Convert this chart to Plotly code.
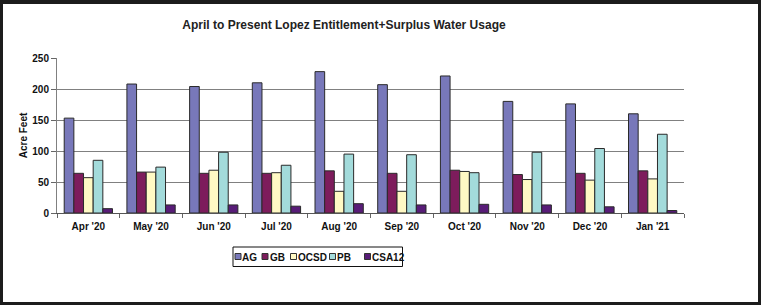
import plotly.graph_objects as go

months = ["Apr '20", "May '20", "Jun '20", "Jul '20", "Aug '20",
          "Sep '20", "Oct '20", "Nov '20", "Dec '20", "Jan '21"]
AG = [153, 208, 204, 210, 228, 207, 221, 180, 176, 160]
GB = [64, 66, 64, 64, 68, 64, 69, 62, 64, 68]
OCSD = [57, 66, 69, 65, 35, 35, 67, 54, 53, 55]
PB = [85, 74, 98, 77, 95, 94, 65, 98, 104, 127]
CSA12 = [7, 13, 13, 11, 15, 13, 14, 13, 10, 4]

series_names = ["AG", "GB", "OCSD", "PB", "CSA12"]
series_values = [AG, GB, OCSD, PB, CSA12]
colors = ["#7878BA", "#7D1C5C", "#FFF9C4", "#A3DBDB", "#581C78"]

W, H = 761, 305
ML, MR, MT, MB = 57, 77, 58, 92
PW, PH = W - ML - MR, H - MT - MB

def px(x):
    return (x - ML) / PW

def py(y):
    return (H - MB - y) / PH

FONT = "Arial, Liberation Sans, sans-serif"

fig = go.Figure()
for name, vals, col in zip(series_names, series_values, colors):
    fig.add_trace(go.Bar(
        x=months, y=vals, name=name,
        marker=dict(color=col, line=dict(color="#2a2a2a", width=1)),
        showlegend=False,
    ))

shapes = []
# black frame around the picture
frame_col = "#1c1c1c"
for (x0, y0, x1, y1) in [(0, 0, W, 4), (0, 0, 3, H), (W - 3, 0, W, H), (0, H - 3, W, H)]:
    shapes.append(dict(type="rect", xref="paper", yref="paper",
                       x0=px(x0), x1=px(x1), y0=py(y0), y1=py(y1),
                       fillcolor=frame_col, line=dict(width=0), layer="above"))

# manual legend
shapes.append(dict(type="rect", xref="paper", yref="paper",
                   x0=px(233), x1=px(402.5), y0=py(247), y1=py(266.5),
                   fillcolor="white", line=dict(color="#111", width=1)))
sq_x = [235, 262, 290.5, 329.5, 364.5]
txt_x = [242, 269.5, 297.5, 336.5, 371.5]
annotations = []
cy = 256.5
for name, col, sx, tx in zip(series_names, colors, sq_x, txt_x):
    shapes.append(dict(type="rect", xref="paper", yref="paper",
                       x0=px(sx), x1=px(sx + 6), y0=py(cy - 3), y1=py(cy + 3),
                       fillcolor=col, line=dict(color="#333", width=1)))
    annotations.append(dict(text=name, xref="paper", yref="paper",
                            x=px(tx), y=py(cy + 0.5), xanchor="left", yanchor="middle",
                            showarrow=False, borderpad=0, borderwidth=0,
                            font=dict(family=FONT, size=10, color="#111", weight="bold")))

fig.update_layout(
    width=W, height=H,
    margin=dict(l=ML, r=MR, t=MT, b=MB),
    paper_bgcolor="white", plot_bgcolor="white",
    barmode="group", bargap=0.23, bargroupgap=0,
    title=dict(text="April to Present Lopez Entitlement+Surplus Water Usage",
               x=344 / W, xref="container", xanchor="center",
               y=1 - 25 / H, yref="container", yanchor="middle",
               font=dict(family=FONT, size=12, color="#222", weight="bold")),
    xaxis=dict(type="category", showgrid=False, ticks="outside", tickson="boundaries",
               ticklen=4, tickcolor="#666", showline=True, linecolor="#555", linewidth=1,
               tickfont=dict(family=FONT, size=10, color="#111", weight="bold"),
               ticklabelstandoff=4),
    yaxis=dict(range=[0, 250], dtick=50, showgrid=True, gridcolor="#808080", gridwidth=1,
               ticks="outside", ticklen=5, tickcolor="#666", showline=True,
               linecolor="#808080", zeroline=False,
               tickfont=dict(family=FONT, size=10, color="#111", weight="bold"),
               title=dict(text="Acre Feet", standoff=2,
                          font=dict(family=FONT, size=10, color="#111", weight="bold"))),
    shapes=shapes,
    annotations=annotations,
)

fig.write_html("out.html", config={"displayModeBar": False},
               post_script="document.body.style.margin='0';document.body.style.overflow='hidden';")
